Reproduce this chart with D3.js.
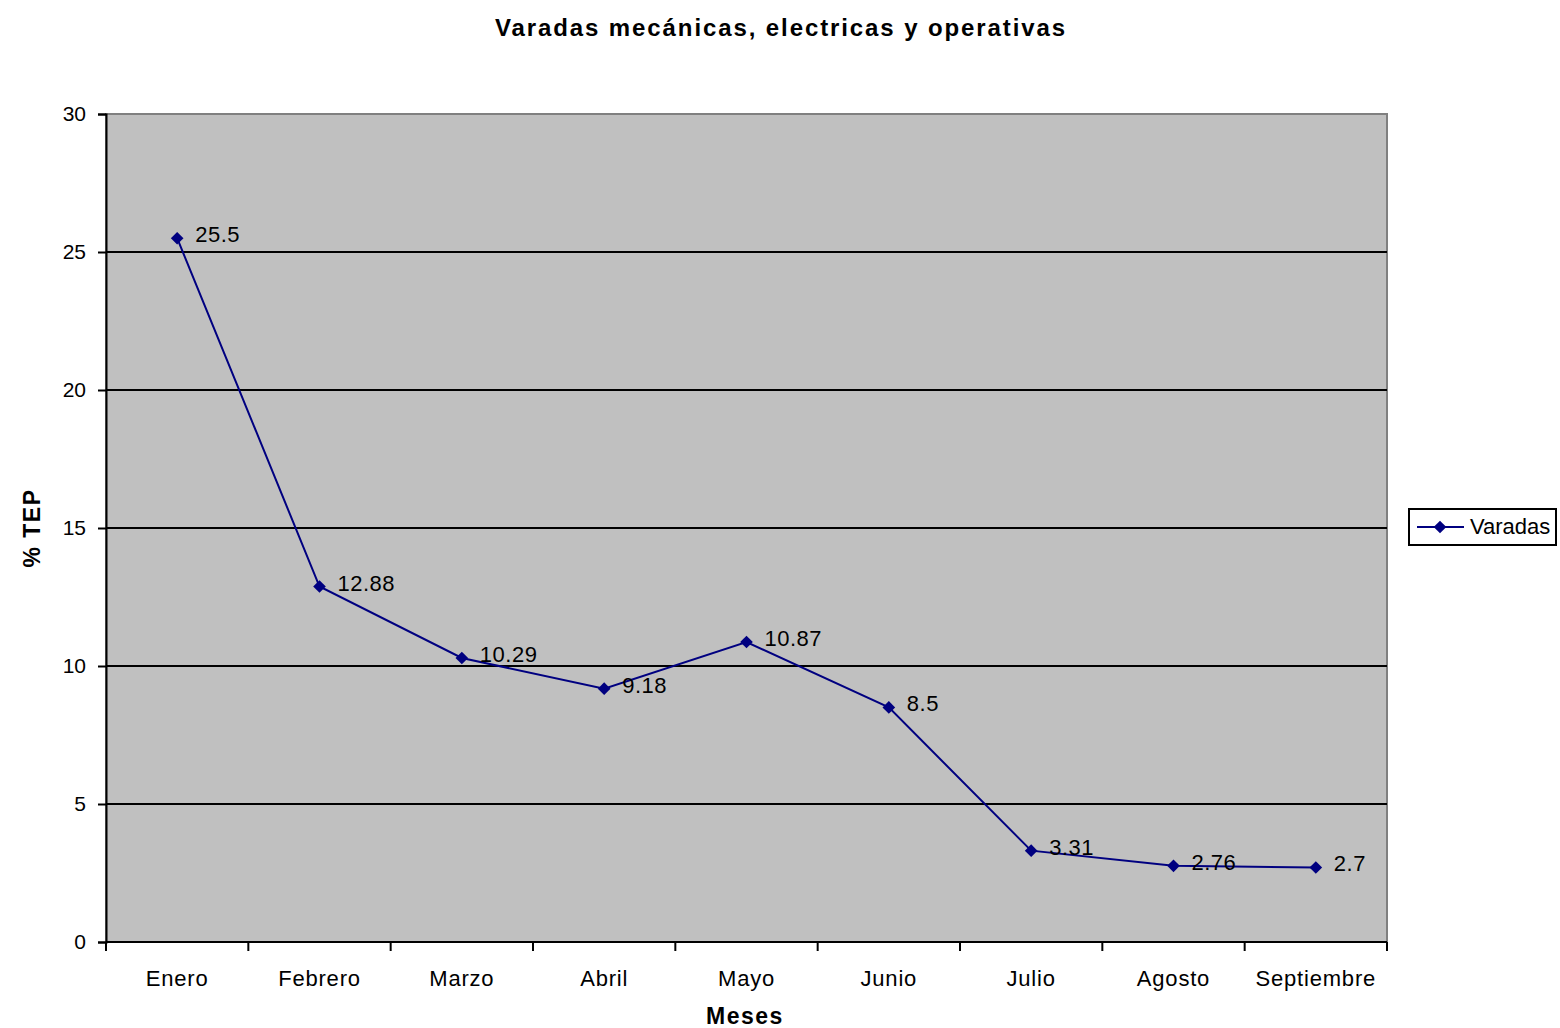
<!DOCTYPE html>
<html>
<head>
<meta charset="utf-8">
<script src="https://cdn.jsdelivr.net/npm/d3@7"></script>
<style>
  body { margin: 0; background: #ffffff; }
  text { font-family: "Liberation Sans", Arial, sans-serif; }
</style>
</head>
<body>
<div id="chart"></div>
<script>
// data
const months = ["Enero", "Febrero", "Marzo", "Abril", "Mayo", "Junio", "Julio", "Agosto", "Septiembre"];
const varadas = [25.5, 12.88, 10.29, 9.18, 10.87, 8.5, 3.31, 2.76, 2.7];
const yTicks = [0, 5, 10, 15, 20, 25, 30];

const W = 1560, H = 1028;
const margin = {top: 114, right: 173, bottom: 86, left: 106};
const width = W - margin.left - margin.right,
      height = H - margin.top - margin.bottom;

const svg = d3.select("#chart").append("svg")
  .attr("width", W).attr("height", H);

// title
svg.append("text")
  .attr("x", 781).attr("y", 36)
  .attr("text-anchor", "middle")
  .style("font-size", "24px").style("font-weight", "bold")
  .style("letter-spacing", "1.9px")
  .text("Varadas mecánicas, electricas y operativas");

const g = svg.append("g").attr("transform", `translate(${margin.left}, ${margin.top})`);

const x = d3.scaleBand().domain(months).range([0, width]);
const y = d3.scaleLinear().domain([0, 30]).range([height, 0]);

// plot area
g.append("rect")
  .attr("width", width).attr("height", height)
  .attr("fill", "#c0c0c0")
  .attr("stroke", "#808080").attr("stroke-width", 2);

// gridlines
g.selectAll(".grid")
  .data(yTicks.filter(d => d > 0 && d < 30))
  .join("line")
  .attr("x1", 0).attr("x2", width)
  .attr("y1", d => y(d)).attr("y2", d => y(d))
  .attr("stroke", "#000").attr("stroke-width", 2);

// y axis
const yAxis = g.append("g")
  .call(d3.axisLeft(y).tickValues(yTicks).tickSize(8).tickPadding(12));
yAxis.select(".domain").attr("stroke", "#000").attr("stroke-width", 2);
yAxis.selectAll(".tick line").attr("stroke-width", 2);
yAxis.selectAll(".tick text").style("font-size", "21px").attr("fill", "#000")
  .style("font-family", "Liberation Sans, Arial, sans-serif");

// x axis: ticks on category boundaries
const xAxis = g.append("g").attr("transform", `translate(0, ${height})`);
xAxis.append("line").attr("x1", 0).attr("x2", width)
  .attr("stroke", "#000").attr("stroke-width", 2);
xAxis.selectAll(".xt")
  .data(months.concat(["_end"]))
  .join("line")
  .attr("x1", (d, i) => i * x.bandwidth()).attr("x2", (d, i) => i * x.bandwidth())
  .attr("y1", 0).attr("y2", 9)
  .attr("stroke", "#000").attr("stroke-width", 2);
xAxis.selectAll(".xl")
  .data(months)
  .join("text")
  .attr("x", d => x(d) + x.bandwidth() / 2)
  .attr("y", 44)
  .attr("text-anchor", "middle")
  .style("font-size", "22px")
  .style("letter-spacing", "0.8px")
  .text(d => d);

// axis titles
svg.append("text")
  .attr("x", 745).attr("y", 1024)
  .attr("text-anchor", "middle")
  .style("font-size", "23px").style("font-weight", "bold")
  .style("letter-spacing", "1.5px")
  .text("Meses");
svg.append("text")
  .attr("transform", "translate(40, 528) rotate(-90)")
  .attr("text-anchor", "middle")
  .style("font-size", "23px").style("font-weight", "bold")
  .style("letter-spacing", "1.5px")
  .text("% TEP");

// line
const line = d3.line()
  .x((d, i) => x(months[i]) + x.bandwidth() / 2)
  .y(d => y(d));
g.append("path")
  .datum(varadas)
  .attr("d", line)
  .attr("fill", "none")
  .attr("stroke", "#000080").attr("stroke-width", 2);

// diamond markers (square diamond, as in the original)
const diamond = d3.symbol().type(d3.symbolSquare).size(80);
g.selectAll(".pt")
  .data(varadas)
  .join("path")
  .attr("d", diamond)
  .attr("transform", (d, i) => `translate(${x(months[i]) + x.bandwidth() / 2}, ${y(d)}) rotate(45)`)
  .attr("fill", "#000080");

// value labels
g.selectAll(".lbl")
  .data(varadas)
  .join("text")
  .attr("x", (d, i) => x(months[i]) + x.bandwidth() / 2 + 18)
  .attr("y", d => y(d) + 4)
  .style("font-size", "22px")
  .style("letter-spacing", "0.5px")
  .text(d => d);

// legend
const leg = svg.append("g").attr("transform", "translate(1409, 509)");
leg.append("rect").attr("width", 147).attr("height", 36)
  .attr("fill", "#fff").attr("stroke", "#000").attr("stroke-width", 2);
leg.append("line").attr("x1", 8).attr("x2", 55).attr("y1", 18).attr("y2", 18)
  .attr("stroke", "#000080").attr("stroke-width", 2);
leg.append("path").attr("d", diamond).attr("transform", "translate(31, 18) rotate(45)").attr("fill", "#000080");
leg.append("text").attr("x", 61).attr("y", 25).style("font-size", "22px").text("Varadas");
</script>
</body>
</html>
